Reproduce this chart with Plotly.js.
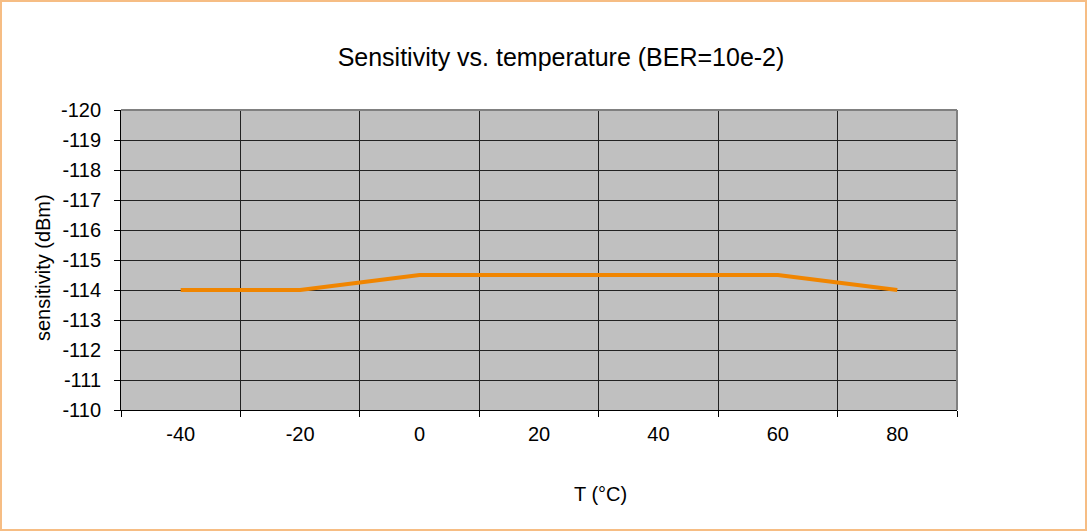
<!DOCTYPE html>
<html>
<head>
<meta charset="utf-8">
<script src="https://cdn.plot.ly/plotly-3.0.1.min.js"></script>
<style>
html,body{margin:0;padding:0;background:#fff;}
#wrap{position:relative;width:1087px;height:531px;box-sizing:border-box;border:2px solid #F6BD84;}
#chart{position:absolute;left:-2px;top:-2px;width:1087px;height:531px;}
</style>
</head>
<body>
<div id="wrap"><div id="chart"></div></div>
<script>
const temperatures = ["-40", "-20", "0", "20", "40", "60", "80"];
const sensitivity = [-114, -114, -114.5, -114.5, -114.5, -114.5, -114];
const yTicks = [-120, -119, -118, -117, -116, -115, -114, -113, -112, -111, -110];

const fontFam = "Liberation Sans, Arial, sans-serif";

const trace = {
  x: temperatures,
  y: sensitivity,
  type: "scatter",
  mode: "lines",
  line: {color: "#F08500", width: 4},
  hoverinfo: "skip"
};

const layout = {
  width: 1087,
  height: 531,
  margin: {l: 121, r: 130, t: 110, b: 121},
  paper_bgcolor: "rgba(0,0,0,0)",
  plot_bgcolor: "#C0C0C0",
  showlegend: false,
  title: {
    text: "Sensitivity vs. temperature (BER=10e-2)",
    font: {family: fontFam, size: 25, color: "#000"},
    xref: "container", x: 561/1087, xanchor: "center",
    yref: "container", y: 1 - 57/531, yanchor: "middle"
  },
  xaxis: {
    type: "category",
    categoryorder: "array",
    categoryarray: temperatures,
    range: [-0.5, 6.5],
    tickson: "boundaries",
    ticks: "outside",
    ticklen: 6,
    tickcolor: "#000",
    ticklabelstandoff: 6,
    showgrid: true,
    gridcolor: "#222",
    gridwidth: 1,
    showline: true,
    linecolor: "#000",
    linewidth: 1,
    zeroline: false,
    tickfont: {family: fontFam, size: 20, color: "#000"},
    fixedrange: true
  },
  yaxis: {
    range: [-110, -120],
    tickvals: yTicks,
    ticktext: yTicks.map(String),
    ticks: "outside",
    ticklen: 6,
    tickcolor: "#000",
    ticklabelstandoff: 9,
    showgrid: true,
    gridcolor: "#222",
    gridwidth: 1,
    showline: true,
    linecolor: "#000",
    linewidth: 1,
    zeroline: false,
    tickfont: {family: fontFam, size: 20, color: "#000"},
    fixedrange: true
  },
  shapes: [
    {type: "line", xref: "paper", yref: "paper", x0: 0, x1: 1, y0: 1, y1: 1, line: {color: "#808080", width: 2}},
    {type: "line", xref: "paper", yref: "paper", x0: 1, x1: 1, y0: 0, y1: 1, line: {color: "#808080", width: 2}}
  ],
  annotations: [
    {text: "T (°C)", xref: "paper", yref: "paper", x: (600-121)/836, y: -(494-410)/300,
     xanchor: "center", yanchor: "middle", showarrow: false,
     font: {family: fontFam, size: 20, color: "#000"}},
    {text: "sensitivity (dBm)", xref: "paper", yref: "paper", x: -(121-43)/836, y: (410-268)/300,
     xanchor: "center", yanchor: "middle", showarrow: false, textangle: -90,
     font: {family: fontFam, size: 20, color: "#000"}}
  ]
};

Plotly.newPlot("chart", [trace], layout, {displayModeBar: false, staticPlot: true});
</script>
</body>
</html>
